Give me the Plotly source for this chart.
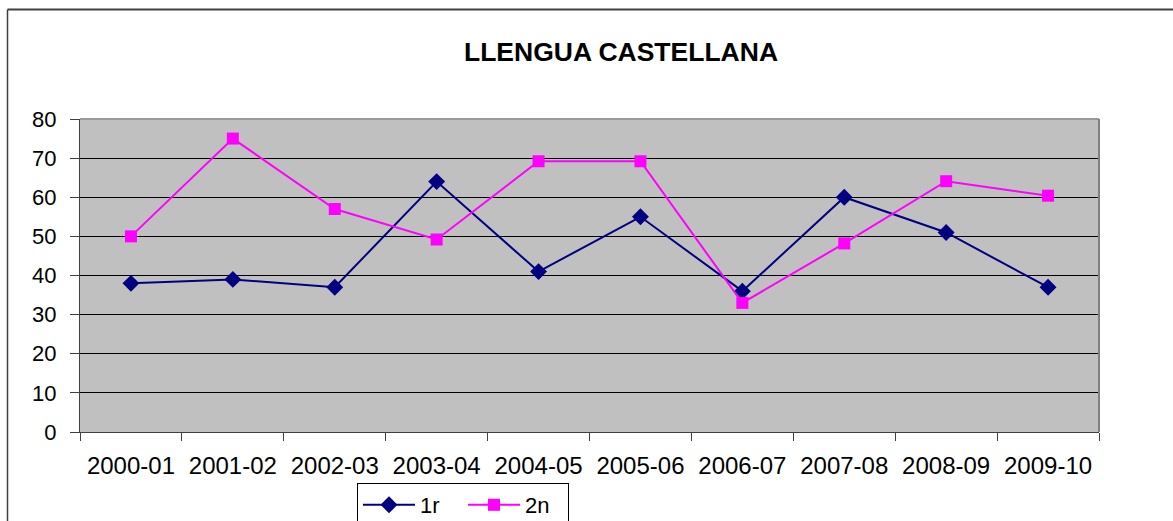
import plotly.graph_objects as go

categories = ["2000-01", "2001-02", "2002-03", "2003-04", "2004-05",
              "2005-06", "2006-07", "2007-08", "2008-09", "2009-10"]
serie_1r = [38, 39, 37, 64, 41, 55, 36, 60, 51, 37]
serie_2n = [50, 75, 57, 49.2, 69.2, 69.2, 33, 48.2, 64.1, 60.4]
y_ticks = [0, 10, 20, 30, 40, 50, 60, 70, 80]

FONT = "Liberation Sans, Arial, sans-serif"
W, H = 1173, 521
L, R, T, B = 80, 74, 119, 89
PW, PH = W - L - R, H - T - B

fig = go.Figure()
fig.add_trace(go.Scatter(
    x=categories, y=serie_1r, name="1r", mode="lines+markers",
    line=dict(color="#000080", width=2),
    marker=dict(symbol="diamond", size=13, color="#000080"),
))
fig.add_trace(go.Scatter(
    x=categories, y=serie_2n, name="2n", mode="lines+markers",
    line=dict(color="#FF00FF", width=2),
    marker=dict(symbol="square", size=12, color="#FF00FF"),
))

fig.update_layout(
    width=W, height=H,
    margin=dict(l=L, r=R, t=T, b=B, autoexpand=False),
    paper_bgcolor="white",
    plot_bgcolor="#C0C0C0",
    font=dict(family=FONT, size=22, color="black"),
    title=dict(text="<b>LLENGUA CASTELLANA</b>", x=621 / W, xanchor="center",
               y=1 - 52 / H, yanchor="middle",
               font=dict(family=FONT, size=26.5, color="black")),
    showlegend=True,
    legend=dict(orientation="h", xref="container", yref="container",
                x=357 / W, xanchor="left",
                y=1 - 483 / H, yanchor="top",
                bordercolor="black", borderwidth=1, bgcolor="white",
                font=dict(family=FONT, size=22),
                itemwidth=52,
                entrywidth=38, entrywidthmode="pixels",
                tracegroupgap=0),
)

fig.update_xaxes(
    type="category", tickson="boundaries", automargin=False,
    range=[-0.5, len(categories) - 0.5],
    ticks="outside", ticklen=8, tickwidth=1, tickcolor="#404040",
    showline=True, linecolor="#404040", linewidth=1,
    showgrid=False, zeroline=False, ticklabelstandoff=12,
    tickfont=dict(family=FONT, size=24),
)
fig.update_yaxes(
    range=[0, 80], tickvals=y_ticks, automargin=False,
    ticks="outside", ticklen=9, tickwidth=1, tickcolor="#404040",
    showline=True, linecolor="#404040", linewidth=1,
    showgrid=True, gridcolor="black", gridwidth=1,
    zeroline=False, ticklabelstandoff=9,
    tickfont=dict(family=FONT, size=22),
)

# plot-area border (top and right, gray)
fig.add_shape(type="line", xref="x domain", yref="y domain",
              x0=0, x1=1, y0=1, y1=1, line=dict(color="#999999", width=2),
              layer="above")
fig.add_shape(type="line", xref="x domain", yref="y domain",
              x0=1, x1=1, y0=0, y1=1, line=dict(color="#808080", width=2),
              layer="above")

# outer chart frame (top and left)
fx = (7.5 - L) / PW
fy = 1 + (T - 9.5) / PH
fig.add_shape(type="line", xref="paper", yref="paper",
              x0=fx, x1=1.2, y0=fy, y1=fy,
              line=dict(color="#404040", width=2), layer="above")
fig.add_shape(type="line", xref="paper", yref="paper",
              x0=fx, x1=fx, y0=-0.4, y1=fy,
              line=dict(color="#404040", width=1.5), layer="above")

fig.write_html(
    "out.html",
    config={"displayModeBar": False},
    post_script="document.body.style.margin='0';document.body.style.overflow='hidden';",
)
